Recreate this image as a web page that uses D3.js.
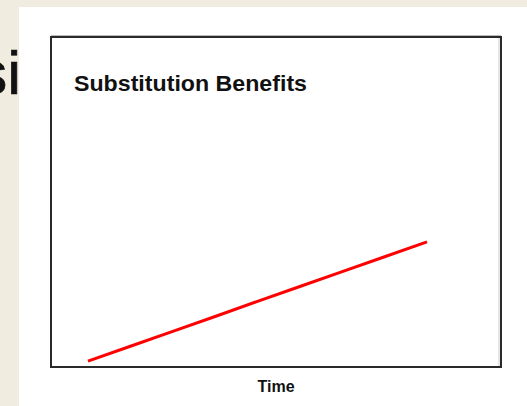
<!DOCTYPE html>
<html>
<head>
<meta charset="utf-8">
<script src="https://cdn.jsdelivr.net/npm/d3@7"></script>
<style>
  html, body { margin: 0; padding: 0; background: #f0ecdf; }
  svg { display: block; }
</style>
</head>
<body>
<script>
// Time steps and the benefit accumulated at each step
const timeSteps = [0, 1, 2, 3, 4, 5, 6, 7, 8];
const benefitValues = [1.8, 6.3, 10.8, 15.3, 19.9, 24.4, 28.9, 33.4, 37.9];
const chartTitle = "Substitution Benefits";
const xAxisLabel = "Time";

const W = 527, H = 406;
const svg = d3.select("body").append("svg")
  .attr("width", W).attr("height", H);

// slide background and the partially hidden heading behind the panel
svg.append("rect").attr("width", W).attr("height", H).attr("fill", "#f0ecdf");
svg.append("text")
  .attr("x", 21).attr("y", 94)
  .attr("text-anchor", "end")
  .attr("font-family", "Liberation Sans, Arial, sans-serif")
  .attr("font-size", 62)
  .attr("fill", "#111")
  .attr("stroke", "#111")
  .attr("stroke-width", 0.7)
  .text("si");

// white panel holding the chart
svg.append("rect")
  .attr("x", 19).attr("y", 7)
  .attr("width", W - 19).attr("height", H - 7)
  .attr("fill", "#ffffff");

// plot frame
const frame = { left: 51, top: 37, right: 501, bottom: 367 };

// faint shadow lines of the frame
svg.append("line")
  .attr("x1", frame.left).attr("x2", frame.right)
  .attr("y1", frame.top - 1.5).attr("y2", frame.top - 1.5)
  .attr("stroke", "#bbbbbb").attr("stroke-width", 1);
svg.append("line")
  .attr("x1", frame.right - 2).attr("x2", frame.right - 2)
  .attr("y1", frame.top).attr("y2", frame.bottom)
  .attr("stroke", "#cccccc").attr("stroke-width", 1);

svg.append("rect")
  .attr("x", frame.left).attr("y", frame.top)
  .attr("width", frame.right - frame.left)
  .attr("height", frame.bottom - frame.top)
  .attr("fill", "none")
  .attr("stroke", "#2a2a2a")
  .attr("stroke-width", 2);

// scales
const x = d3.scaleLinear()
  .domain([0, 8])
  .range([frame.left + 37, frame.right - 74]);
const y = d3.scaleLinear()
  .domain([0, 100])
  .range([frame.bottom, frame.top]);

// benefit line
const line = d3.line()
  .x((d, i) => x(timeSteps[i]))
  .y(d => y(d));
svg.append("path")
  .datum(benefitValues)
  .attr("d", line)
  .attr("fill", "none")
  .attr("stroke", "#ff0000")
  .attr("stroke-width", 3)
  .attr("stroke-linecap", "butt");

// title inside the frame
const title = svg.append("text")
  .attr("x", 74).attr("y", 91)
  .attr("font-family", "Liberation Sans, Arial, sans-serif")
  .attr("font-weight", "bold")
  .attr("font-size", 22)
  .attr("fill", "#111")
  .text(chartTitle);
const tw = title.node().getComputedTextLength();
if (Math.abs(tw - 233) > 3) title.attr("textLength", 233).attr("lengthAdjust", "spacingAndGlyphs");

// x axis label
svg.append("text")
  .attr("x", 276).attr("y", 392)
  .attr("text-anchor", "middle")
  .attr("font-family", "Liberation Sans, Arial, sans-serif")
  .attr("font-weight", "bold")
  .attr("font-size", 16)
  .attr("fill", "#111")
  .text(xAxisLabel);
</script>
</body>
</html>
